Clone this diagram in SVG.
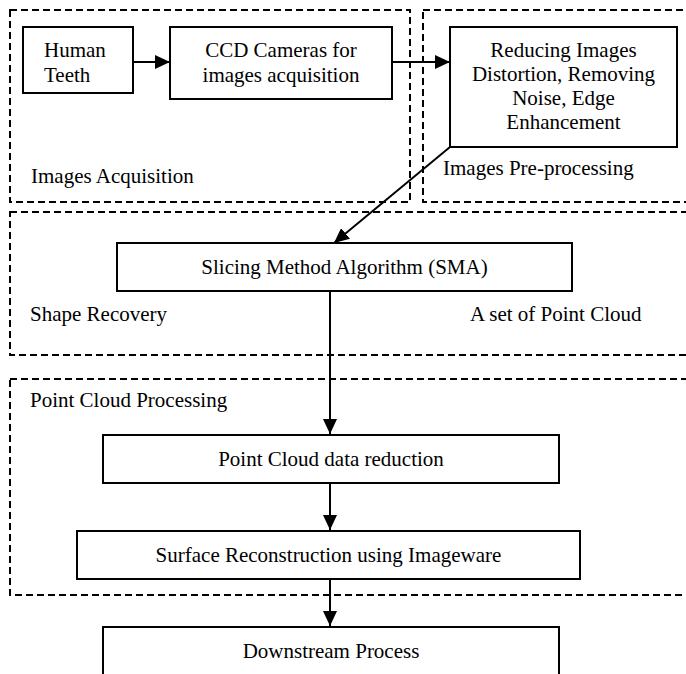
<svg xmlns="http://www.w3.org/2000/svg" width="686" height="674" viewBox="0 0 686 674">
<style>
.grp{fill:none;stroke:#000;stroke-width:2;stroke-dasharray:7,4}
.box{fill:#fff;stroke:#000;stroke-width:2}
.t{font-family:"Liberation Serif","Times New Roman",serif;font-size:21px;fill:#000}
.c{text-anchor:middle}
.ln{fill:none;stroke:#000;stroke-width:2}
</style>
<defs>
<marker id="ah" markerWidth="16" markerHeight="14" refX="15" refY="7" orient="auto" markerUnits="userSpaceOnUse">
<path d="M0,0 L15,7 L0,14 Z" fill="#000"/>
</marker>
</defs>
<rect width="686" height="674" fill="#fff"/>
<g id="groups">
<rect id="g-acq" class="grp" x="10" y="10" width="400" height="192"/>
<rect id="g-pre" class="grp" x="423" y="10" width="280" height="192"/>
<rect id="g-shape" class="grp" x="10" y="212" width="690" height="143"/>
<rect id="g-pcp" class="grp" x="10" y="379" width="690" height="216"/>
<text class="t" x="31" y="183">Images Acquisition</text>
<text class="t" x="443" y="175">Images Pre-processing</text>
<text class="t" x="30" y="321">Shape Recovery</text>
<text class="t" x="470" y="321">A set of Point Cloud</text>
<text class="t" x="30" y="407">Point Cloud Processing</text>
</g>
<g id="connectors">
<line class="ln" x1="133" y1="62" x2="170" y2="62" marker-end="url(#ah)"/>
<line class="ln" x1="392" y1="62" x2="450" y2="62" marker-end="url(#ah)"/>
<line class="ln" x1="450" y1="147" x2="334" y2="243" marker-end="url(#ah)"/>
<line class="ln" x1="330" y1="291" x2="330" y2="434" marker-end="url(#ah)"/>
<line class="ln" x1="330" y1="483" x2="330" y2="530" marker-end="url(#ah)"/>
<line class="ln" x1="330" y1="579" x2="330" y2="626" marker-end="url(#ah)"/>
</g>
<g id="n-teeth">
<rect class="box" x="23" y="27" width="110" height="66"/>
<text class="t" x="44" y="57">Human</text>
<text class="t" x="44" y="82">Teeth</text>
</g>
<g id="n-ccd">
<rect class="box" x="170" y="27" width="222" height="72"/>
<text class="t c" x="281" y="57">CCD Cameras for</text>
<text class="t c" x="281" y="82">images acquisition</text>
</g>
<g id="n-reduce">
<rect class="box" x="450" y="27" width="227" height="120"/>
<text class="t c" x="563.5" y="57">Reducing Images</text>
<text class="t c" x="563.5" y="81">Distortion, Removing</text>
<text class="t c" x="563.5" y="105">Noise, Edge</text>
<text class="t c" x="563.5" y="129">Enhancement</text>
</g>
<g id="n-sma">
<rect class="box" x="117" y="243" width="455" height="48"/>
<text class="t c" x="344.5" y="274">Slicing Method Algorithm (SMA)</text>
</g>
<g id="n-pcr">
<rect class="box" x="103" y="435" width="456" height="48"/>
<text class="t c" x="331" y="466">Point Cloud data reduction</text>
</g>
<g id="n-surf">
<rect class="box" x="77" y="531" width="503" height="48"/>
<text class="t c" x="328.5" y="562">Surface Reconstruction using Imageware</text>
</g>
<g id="n-down">
<rect class="box" x="103" y="627" width="456" height="60"/>
<text class="t c" x="331" y="658">Downstream Process</text>
</g>
</svg>
